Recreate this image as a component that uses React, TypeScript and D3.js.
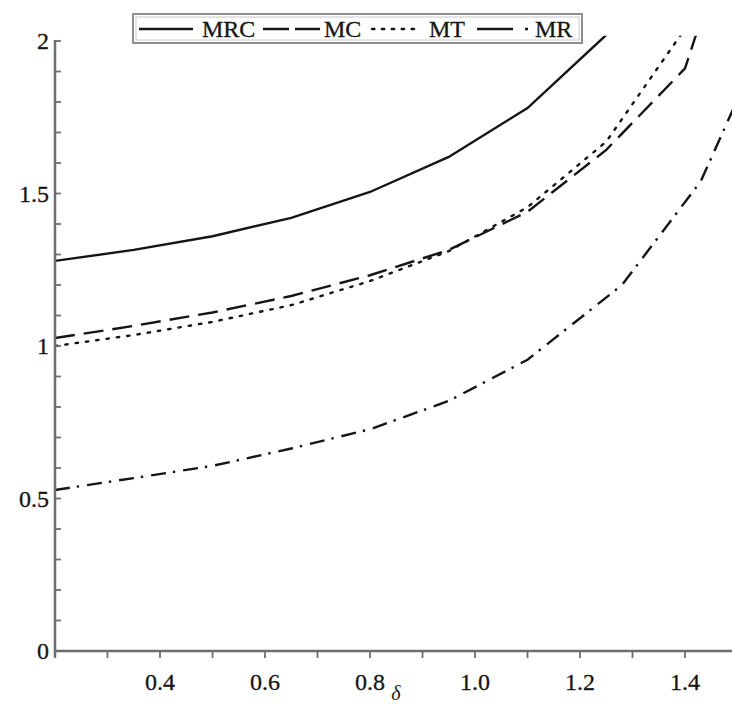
import React from "react";
import * as d3 from "d3";

const delta = [0.2, 0.35, 0.5, 0.65, 0.8, 0.95, 1.1, 1.25, 1.4, 1.55];
const mrc = [1.279, 1.315, 1.36, 1.42, 1.505, 1.62, 1.78, 2.02, 2.5, 3.2];
const mc = [1.026, 1.066, 1.11, 1.164, 1.232, 1.315, 1.44, 1.643, 1.91, 2.7];
const mt = [1.0, 1.036, 1.079, 1.134, 1.213, 1.311, 1.455, 1.67, 2.04, 2.8];
const deltaMR = [0.2, 0.35, 0.5, 0.65, 0.8, 0.95, 1.1, 1.28, 1.43, 1.55];
const mr = [0.528, 0.567, 0.607, 0.664, 0.727, 0.82, 0.955, 1.2, 1.54, 2.0];

const xTickLabels = ["0.4", "0.6", "0.8", "1.0", "1.2", "1.4"];
const yTickLabels = ["0", "0.5", "1", "1.5", "2"];
const legendNames = ["MRC", "MC", "MT", "MR"];

const W = 732;
const H = 706;
const x = d3.scaleLinear().domain([0.2, 1.5]).range([55, 737.5]);
const y = d3.scaleLinear().domain([0, 2]).range([651, 41]);

const font = "'Liberation Serif', 'Times New Roman', serif";
const ink = "#151515";
const axisColor = "#6e6e6e";

const series = [
  { name: "MRC", xs: delta, ys: mrc, dash: "none" },
  { name: "MC", xs: delta, ys: mc, dash: "20,9" },
  { name: "MT", xs: delta, ys: mt, dash: "2.4,8" },
  { name: "MR", xs: deltaMR, ys: mr, dash: "15,7,2.4,8" },
];

export default function App() {
  const line = d3
    .line<[number, number]>()
    .x((d) => x(d[0]))
    .y((d) => y(d[1]));

  const xMajor = xTickLabels.map(Number);
  const xMinor = d3.range(0.3, 1.51, 0.2);
  const yMajor = yTickLabels.map(Number);
  const yMinor = d3.range(0, 2.001, 0.1).filter((v) => Math.abs(v * 2 - Math.round(v * 2)) > 1e-6);

  return (
    <svg
      width={W}
      height={H}
      style={{ position: "absolute", left: 0, top: 0, background: "#fff" }}
      fontFamily={font}
    >
      <defs>
        <clipPath id="plot">
          <rect x={55} y={y(2.017)} width={W - 55} height={651 - y(2.017)} />
        </clipPath>
      </defs>
      <rect x={0} y={0} width={W} height={H} fill="#fff" />

      {/* curves */}
      <g clipPath="url(#plot)">
        {series.map((s) => (
          <path
            key={s.name}
            d={line(s.xs.map((v, i) => [v, s.ys[i]] as [number, number])) || ""}
            fill="none"
            stroke={ink}
            strokeWidth={2.4}
            strokeDasharray={s.dash}
            strokeLinecap={s.name === "MT" ? "round" : "butt"}
          />
        ))}
      </g>

      {/* axes */}
      <g stroke={axisColor} strokeWidth={2.5}>
        <line x1={55} y1={40} x2={55} y2={657} />
        <line x1={54} y1={651} x2={W} y2={651} />
        {yMajor.concat(yMinor).map((v, i) => (
          <line key={"yt" + i} x1={55} x2={61} y1={y(v)} y2={y(v)} strokeWidth={1.8} />
        ))}
        {[0.2].concat(xMajor, xMinor).map((v, i) => (
          <line key={"xt" + i} x1={x(v)} x2={x(v)} y1={651} y2={658} strokeWidth={1.8} />
        ))}
      </g>

      {/* tick labels */}
      <g fontSize={24} fill={ink} stroke={ink} strokeWidth={0.3}>
        {yTickLabels.map((t) => (
          <text key={t} x={49} y={y(Number(t)) + 8} textAnchor="end">
            {t}
          </text>
        ))}
        {xTickLabels.map((t) => (
          <text key={t} x={x(Number(t))} y={690} textAnchor="middle">
            {t}
          </text>
        ))}
      </g>
      <text x={396} y={700} fontSize={20} fontStyle="italic" textAnchor="middle" fill={ink}>
        δ
      </text>

      {/* legend */}
      <g>
        <rect x={133} y={14} width={449} height={29} fill="#fff" stroke="#8e8e8e" strokeWidth={2} />
        <rect x={136} y={17} width={443} height={23} fill="none" stroke="#c8c8c8" strokeWidth={1} />
        <g stroke={ink} strokeWidth={2.4} fill="none">
          <line x1={139} x2={193} y1={29} y2={29} />
          <line x1={263} x2={320} y1={29} y2={29} strokeDasharray="26,6" />
          <line x1={372} x2={414} y1={29} y2={29} strokeDasharray="2.4,7.5" strokeLinecap="round" />
          <line x1={477} x2={530} y1={29} y2={29} strokeDasharray="36,12,3,20" />
        </g>
        <g fontSize={24} fill={ink} stroke={ink} strokeWidth={0.3}>
          <text x={202} y={37}>{legendNames[0]}</text>
          <text x={324} y={37}>{legendNames[1]}</text>
          <text x={429} y={37}>{legendNames[2]}</text>
          <text x={535} y={37}>{legendNames[3]}</text>
        </g>
      </g>
    </svg>
  );
}
